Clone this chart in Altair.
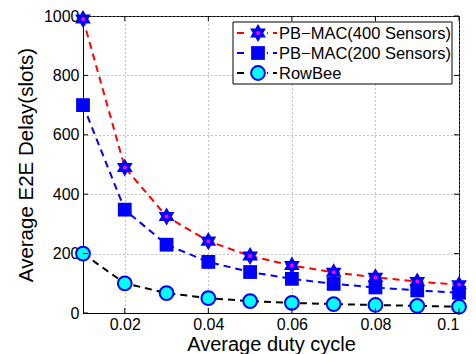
import altair as alt
import pandas as pd

duty = [0.01, 0.02, 0.03, 0.04, 0.05, 0.06, 0.07, 0.08, 0.09, 0.10]
pb400 = [990, 490, 325, 242, 192, 160, 137, 120, 106, 95]
pb200 = [700, 348, 230, 172, 138, 115, 98, 86, 76, 68]
rowbee = [200, 100, 67, 50, 40, 34, 30, 27, 24, 21]
names = ["PB−MAC(400 Sensors)", "PB−MAC(200 Sensors)", "RowBee"]
x_ticks = [0.02, 0.04, 0.06, 0.08, 0.1]
y_ticks = [0, 200, 400, 600, 800, 1000]

W, H = 376, 297
FONT = "Liberation Sans"
STAR = ("M0,-1L0.2887,-0.5L0.866,-0.5L0.577,0L0.866,0.5L0.2887,0.5L0,1"
        "L-0.2887,0.5L-0.866,0.5L-0.577,0L-0.866,-0.5L-0.2887,-0.5Z")

df = pd.concat([
    pd.DataFrame({"x": duty, "y": pb400, "s": names[0]}),
    pd.DataFrame({"x": duty, "y": pb200, "s": names[1]}),
    pd.DataFrame({"x": duty, "y": rowbee, "s": names[2]}),
])

xs = alt.Scale(domain=[0.01, 0.1], nice=False, zero=False)
ys = alt.Scale(domain=[0, 1000], nice=False)
xax = alt.Axis(values=x_ticks, labelExpr="datum.value == 0.1 ? '0.1' : format(datum.value, '.2f')",
               title="Average duty cycle", grid=True, tickSize=0, labelPadding=3,
               titleBaseline="alphabetic", titleY=37, titleX=W / 2, titleFontSize=20)
yax = alt.Axis(values=y_ticks, format="d", title="Average E2E Delay(slots)", grid=True, tickSize=0,
               labelPadding=4, titleBaseline="middle", titleX=-57, titleY=H / 2, titleAngle=270)

X = alt.X("x:Q", scale=xs, axis=xax)
Y = alt.Y("y:Q", scale=ys, axis=yax)

colors = alt.Scale(domain=names, range=["#ff0000", "#0000ff", "#000000"])

lines = alt.Chart(df).mark_line(strokeDash=[7, 5], strokeWidth=2).encode(
    x=X, y=Y, color=alt.Color("s:N", scale=colors, legend=None), detail="s:N")

d400 = df[df.s == names[0]]
d200 = df[df.s == names[1]]
drow = df[df.s == names[2]]

STAR_SIZE = 330
stars = alt.Chart(d400).mark_point(shape=STAR, filled=True, color="#0000ff", size=STAR_SIZE,
                                   opacity=1).encode(x=X, y=Y)
dots = alt.Chart(d400).mark_point(shape="circle", filled=True, color="#ff00ff", size=16,
                                  opacity=1).encode(x=X, y=Y)
squares = alt.Chart(d200).mark_point(shape="square", filled=True, color="#0000ff", size=190,
                                     opacity=1).encode(x=X, y=Y)
circles = alt.Chart(drow).mark_point(shape="circle", filled=True, fill="#00ffff",
                                     stroke="#0000ff", strokeWidth=2, size=190,
                                     opacity=1).encode(x=X, y=Y)

# inward ticks on all four sides
tk_y = pd.DataFrame({"y": y_ticks})
tk_x = pd.DataFrame({"x": x_ticks})
ytl = alt.Chart(tk_y).mark_rule(color="black").encode(y=Y, x=alt.value(0), x2=alt.value(5))
ytr = alt.Chart(tk_y).mark_rule(color="black").encode(y=Y, x=alt.value(W - 5), x2=alt.value(W))
xtb = alt.Chart(tk_x).mark_rule(color="black").encode(x=X, y=alt.value(H - 5), y2=alt.value(H))
xtt = alt.Chart(tk_x).mark_rule(color="black").encode(x=X, y=alt.value(0), y2=alt.value(5))

# legend box
lx0, lx1, ly0, ly1 = 150, 369, 6, 68
one = pd.DataFrame({"a": [0]})
box = alt.Chart(one).mark_rect(fill="white", stroke="black", strokeWidth=1).encode(
    x=alt.value(lx0), x2=alt.value(lx1), y=alt.value(ly0), y2=alt.value(ly1))
leg = [box]
rows = [17, 37, 57]
lcol = ["#ff0000", "#0000ff", "#000000"]
for i, (nm, ry, c) in enumerate(zip(names, rows, lcol)):
    leg.append(alt.Chart(one).mark_rule(color=c, strokeWidth=2, strokeDash=[7, 5]).encode(
        x=alt.value(154), x2=alt.value(194), y=alt.value(ry)))
    leg.append(alt.Chart(one).mark_rect(fill="white").encode(
        x=alt.value(166), x2=alt.value(184), y=alt.value(ry - 2), y2=alt.value(ry + 2)))
    if i == 0:
        leg.append(alt.Chart(one).mark_point(shape=STAR, filled=True, color="#0000ff", size=STAR_SIZE, opacity=1).encode(
            x=alt.value(175), y=alt.value(ry)))
        leg.append(alt.Chart(one).mark_point(shape="circle", filled=True, color="#ff00ff", size=16, opacity=1).encode(
            x=alt.value(175), y=alt.value(ry)))
    elif i == 1:
        leg.append(alt.Chart(one).mark_point(shape="square", filled=True, color="#0000ff", size=190, opacity=1).encode(
            x=alt.value(175), y=alt.value(ry)))
    else:
        leg.append(alt.Chart(one).mark_point(shape="circle", filled=True, fill="#00ffff", stroke="#0000ff",
                                             strokeWidth=2, size=190, opacity=1).encode(
            x=alt.value(175), y=alt.value(ry)))
    leg.append(alt.Chart(one).mark_text(text=nm, align="left", baseline="middle", font=FONT,
                                        fontSize=16.5, color="black").encode(
        x=alt.value(196), y=alt.value(ry + 1)))

chart = alt.layer(lines, stars, dots, squares, circles, ytl, ytr, xtb, xtt, *leg).properties(
    width=W, height=H,
    padding={"left": 83, "top": 16, "right": 17, "bottom": 41},
    autosize=alt.AutoSizeParams(type="none"),
    background="white",
).configure_view(stroke="black", strokeWidth=1).configure_axis(
    labelFont=FONT, titleFont=FONT, labelFontSize=16, titleFontSize=20.5,
    labelColor="black", titleColor="black", titleFontWeight="normal",
    domainColor="black", gridColor="#888888", gridDash=[1, 3], gridWidth=1,
)

chart.save("out.html", embed_options={"renderer": "svg", "actions": False})
